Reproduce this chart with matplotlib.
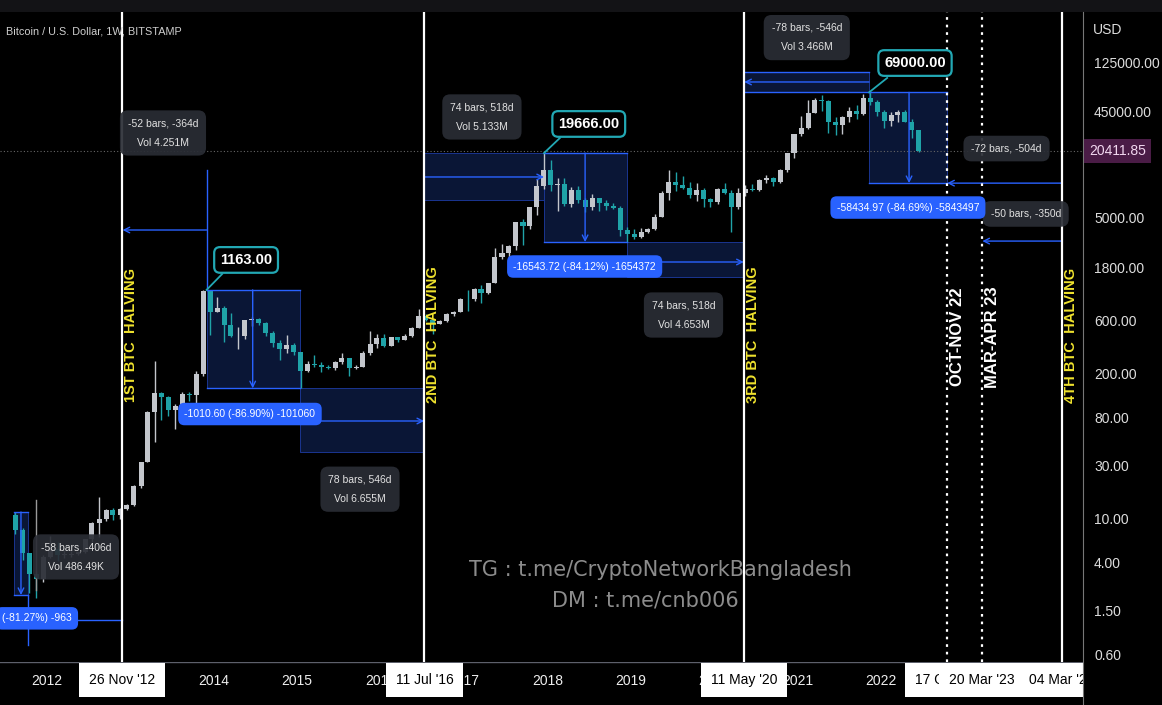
import matplotlib
matplotlib.use("Agg")
import matplotlib.pyplot as plt
import matplotlib.dates as mdates
from matplotlib.patches import Rectangle
import pandas as pd

BG = "#000000"
UP = "#c3c6cc"
DOWN = "#1fa3a8"
BLUE = "#2962ff"
NAVY = "#0a1636"
YELLOW = "#efe22e"
TEAL = "#22a8b4"
FONT = ["Liberation Sans", "DejaVu Sans"]

# monthly BTC/USD (Bitstamp), Aug 2011 .. Jun 2022
first_open = 11.0
closes = [8.2, 5.1, 3.25, 2.97, 4.7,
          5.5, 4.9, 4.9, 4.95, 5.15, 6.7, 9.4, 10.2, 12.4, 11.2, 12.6, 13.5,
          20.4, 33.4, 93, 139, 128, 97, 106, 135, 133, 203, 1128, 735,
          800, 560, 445, 445, 625, 640, 585, 480, 385, 340, 375, 320,
          218, 254, 245, 236, 230, 263, 283, 230, 236, 313, 378, 430,
          368, 437, 416, 448, 531, 673, 624, 573, 609, 700, 742, 966,
          963, 1190, 1080, 1350, 2300, 2480, 2870, 4735, 4335, 6450, 9950, 13850,
          10100, 10300, 6930, 9240, 7500, 6390, 7730, 7030, 6630, 6300, 4020, 3690,
          3440, 3820, 4100, 5300, 8570, 10800, 10100, 9600, 8300, 9150, 7540, 7190,
          9350, 8540, 6410, 8620, 9450, 9140, 11330, 11650, 10780, 13800, 19700, 28990,
          33100, 45200, 58800, 57700, 37300, 35000, 41500, 47100, 43800, 61300, 57000, 46200,
          38500, 43200, 45500, 37700, 31800, 20411.85]
highs = [11.8, 8.5, 5.1, 3.5, 4.9,
         7.2, 6.3, 5.4, 5.3, 5.2, 6.8, 9.6, 16.0, 12.6, 12.9, 12.9, 13.8,
         20.5, 33.4, 95, 266, 140, 130, 110, 140, 140, 216, 1163, 1150,
         1000, 830, 714, 540, 625, 670, 655, 600, 497, 415, 460, 390,
         320, 266, 300, 260, 247, 268, 315, 285, 245, 330, 500, 465,
         463, 440, 440, 467, 545, 780, 705, 630, 630, 720, 755, 975,
         1150, 1200, 1290, 1350, 2750, 2990, 2920, 4750, 5000, 6470, 11400, 19666,
         17200, 11800, 11700, 9750, 9990, 7770, 8500, 7770, 7400, 7000, 6600, 4240,
         4100, 4200, 4140, 5600, 9000, 13800, 13200, 12300, 10900, 10500, 9500, 7750,
         9570, 10500, 9190, 9460, 10080, 10380, 11440, 12470, 12060, 14100, 19800, 29300,
         41950, 58350, 61780, 64900, 59500, 41300, 42400, 50500, 52900, 67000, 69000, 59100,
         47900, 45800, 48200, 47500, 40000, 31900]
lows = [7.5, 4.4, 2.2, 2.0, 2.8,
        4.6, 4.3, 4.6, 4.7, 4.9, 5.1, 6.4, 7.1, 9.8, 9.9, 10.3, 12.4,
        13.3, 19.5, 33, 50, 79, 86, 65, 101, 118, 103, 197, 455,
        733, 400, 440, 340, 420, 550, 565, 445, 360, 275, 314, 300,
        152, 212, 237, 215, 228, 220, 250, 198, 225, 235, 300, 350,
        355, 365, 397, 413, 440, 530, 610, 470, 570, 605, 680, 740,
        750, 915, 890, 1060, 1350, 2200, 1830, 2670, 2970, 4110, 5500, 9400,
        9000, 6000, 6600, 6430, 7030, 5770, 6070, 5880, 6100, 6200, 3550, 3120,
        3350, 3370, 3770, 4050, 5280, 7500, 9060, 9350, 7700, 7300, 6500, 6430,
        6860, 8450, 3850, 6150, 8100, 8900, 8900, 10530, 9880, 10530, 13200, 17600,
        28100, 32300, 45000, 47000, 30000, 28800, 29300, 37300, 39600, 43300, 53300, 42000,
        32900, 34300, 37200, 37600, 26700, 20100]
months = pd.date_range("2011-08-01", periods=len(closes), freq="MS")
opens = [first_open] + closes[:-1]

price_ticks = [125000, 45000, 5000, 1800, 600, 200, 80, 30, 10, 4, 1.5, 0.6]
last_price = 20411.85
years = [2012, 2014, 2015, 2016, 2017, 2018, 2019, 2020, 2021, 2022]
halving_dates = ["2012-11-26", "2016-07-11", "2020-05-11", "2024-03-04"]
halving_labels = ["26 Nov '12", "11 Jul '16", "11 May '20", "04 Mar '24"]
halving_names = ["1ST BTC  HALVING", "2ND BTC  HALVING", "3RD BTC  HALVING", "4TH BTC  HALVING"]
cycle_dates = ["2022-10-17", "2023-03-20"]
cycle_labels = ["17 Oct '22", "20 Mar '23"]
cycle_names = ["OCT-NOV 22", "MAR-APR 23"]


def d(s):
    return mdates.date2num(pd.Timestamp(s))


W, H = 1162, 705
fig = plt.figure(figsize=(W / 100, H / 100), dpi=100, facecolor="#131316")
ax = fig.add_axes([0, 43 / H, 1083 / W, 650 / H], facecolor=BG)
ax.set_yscale("log")
px_day = 0.2283
x0 = d("2012-01-01")
ax.set_xlim(x0 - 47 / px_day, x0 + (1083 - 47) / px_day)
ax.set_ylim(10 ** (1 + (520 - 662) / 111.4), 10 ** (1 + (520 - 12) / 111.4))
ax.set_xticks([]); ax.set_yticks([])
ax.yaxis.set_minor_locator(matplotlib.ticker.NullLocator())
for s in ax.spines.values():
    s.set_visible(False)

# ---- range boxes (behind candles)
def box(a, b, lo, hi):
    ax.add_patch(Rectangle((d(a), lo), d(b) - d(a), hi - lo, fc=NAVY, ec="#1a3590", lw=0.7, zorder=1))

def hline(a, b, p):
    ax.plot([d(a), d(b)], [p, p], color=BLUE, lw=1, zorder=4)

def arrow(a, pa, b, pb):
    ax.annotate("", xy=(d(b), pb), xytext=(d(a), pa),
                arrowprops=dict(arrowstyle="->", color=BLUE, lw=1, shrinkA=0, shrinkB=0), zorder=4)

box("2011-08-09", "2011-10-10", 2.12, 11.8)
arrow("2011-09-09", 11.8, "2011-09-09", 2.12)
hline("2011-08-09", "2011-10-10", 11.8); hline("2011-08-09", "2011-10-10", 2.12)
ax.plot([d("2011-11-14")] * 2, [2.35, 15.1], color="#9a9a9a", lw=1, zorder=4)
ax.plot([d("2011-10-10")] * 2, [0.755, 2.12], color=BLUE, lw=1, zorder=4)
hline("2011-10-10", "2012-11-26", 1.265)

ax.plot([d("2013-11-30")] * 2, [1163, 13870], color=BLUE, lw=1, zorder=4)
arrow("2013-11-30", 4010, "2012-11-27", 4010)

box("2013-11-30", "2015-01-14", 152, 1163)
hline("2013-11-30", "2015-01-14", 1163); hline("2013-11-30", "2015-01-14", 152)
arrow("2014-06-20", 1163, "2014-06-20", 152)
box("2015-01-14", "2016-07-11", 40.7, 152)
arrow("2015-01-14", 77.4, "2016-07-10", 77.4)

box("2016-07-11", "2017-12-17", 7460, 19666)
arrow("2016-07-11", 12000, "2017-12-17", 12000)
box("2017-12-17", "2018-12-15", 3122, 19666)
hline("2017-12-17", "2018-12-15", 19666); hline("2017-12-17", "2018-12-15", 3122)
arrow("2018-06-15", 19666, "2018-06-15", 3122)
box("2018-12-15", "2020-05-11", 1517, 3122)
arrow("2018-12-15", 2070, "2020-05-10", 2070)

box("2020-05-11", "2021-11-10", 69000, 105100)
hline("2020-05-11", "2021-11-10", 105100); hline("2020-05-11", "2021-11-10", 69000)
arrow("2021-11-10", 85500, "2020-05-12", 85500)
box("2021-11-10", "2022-10-17", 10565, 69000)
hline("2021-11-10", "2022-10-17", 69000); hline("2021-11-10", "2022-10-17", 10565)
arrow("2022-05-04", 69000, "2022-05-04", 10565)
arrow("2024-03-04", 10565, "2022-10-18", 10565)
arrow("2024-03-04", 3190, "2023-03-21", 3190)

# ---- candles
xs = mdates.date2num(months) + 15
for x, o, h, l, c in zip(xs, opens, highs, lows, closes):
    col = UP if c >= o else DOWN
    ax.plot([x, x], [l, h], color=col, lw=1.0, zorder=2, solid_capstyle="butt")
    lo_b, hi_b = min(o, c), max(o, c)
    if hi_b / lo_b < 1.01:
        hi_b = lo_b * 1.01
    ax.bar(x, hi_b - lo_b, bottom=lo_b, width=22, color=col, lw=0, zorder=2)

ax.axhline(last_price, color="#666666", lw=0.8, ls=(0, (1, 2)), zorder=1.5)

# ---- halving / cycle lines
for dt, name in zip(halving_dates, halving_names):
    ax.axvline(d(dt), color="white", lw=1.6, zorder=5)
    ax.text(d(dt) + 38, 458, name, rotation=90, color=YELLOW, fontsize=10.5, fontweight="bold",
            ha="center", va="center", family=FONT, zorder=6)
for dt, name in zip(cycle_dates, cycle_names):
    ax.axvline(d(dt), color="white", lw=1.6, ls=(0, (1.2, 2.2)), zorder=5)
    ax.text(d(dt) + 45, 440, name, rotation=90, color="white", fontsize=12, fontweight="bold",
            ha="center", va="center", family=FONT, zorder=6)

# ---- labels
def grey_label(dt, p, s):
    ax.text(d(dt), p, s, ha="center", va="center", color="#e2e2e2", fontsize=7.5, family=FONT,
            linespacing=2.2, zorder=7,
            bbox=dict(boxstyle="round,pad=0.75", fc="#2a2d35", ec="none", alpha=0.92))

def blue_label(dt, p, s):
    ax.text(d(dt), p, s, ha="center", va="center", color="white", fontsize=7.5, family=FONT, zorder=7,
            bbox=dict(boxstyle="round,pad=0.6", fc=BLUE, ec="none"))

def price_label(pk_dt, pk, c_dt, cp, dt, p, s):
    ax.plot([d(pk_dt), d(c_dt)], [pk, cp], color=TEAL, lw=1.3, zorder=7.5)
    ax.text(d(dt), p, s, ha="center", va="center",
            color="white", fontsize=10.5, fontweight="bold", family=FONT, zorder=8,
            bbox=dict(boxstyle="round,pad=0.4", fc="black", ec=TEAL, lw=1.6))

grey_label("2012-05-07", 4.66, "-58 bars, -406d\nVol 486.49K")
grey_label("2013-05-23", 29800, "-52 bars, -364d\nVol 4.251M")
grey_label("2015-10-03", 18.9, "78 bars, 546d\nVol 6.655M")
grey_label("2017-03-20", 41500, "74 bars, 518d\nVol 5.133M")
grey_label("2019-08-20", 692, "74 bars, 518d\nVol 4.653M")
grey_label("2021-02-10", 214000, "-78 bars, -546d\nVol 3.466M")
grey_label("2023-07-05", 21600, "-72 bars, -504d")
grey_label("2023-09-27", 5590, "-50 bars, -350d")

blue_label("2011-11-18", 1.31, "(-81.27%) -963")
blue_label("2014-06-08", 89.4, "-1010.60 (-86.90%) -101060")
blue_label("2018-06-13", 1886, "-16543.72 (-84.12%) -1654372")
blue_label("2022-04-29", 6380, "-58434.97 (-84.69%) -5843497")

price_label("2013-11-30", 1163, "2014-02-06", 1614, "2014-05-22", 2160, "1163.00")
price_label("2017-12-17", 19666, "2018-02-24", 26800, "2018-07-01", 35900, "19666.00")
price_label("2021-11-10", 69000, "2022-01-28", 92900, "2022-05-30", 126500, "69000.00")

fig.text(6 / W, 1 - 31 / H, "Bitcoin / U.S. Dollar, 1W, BITSTAMP", color="#cfcfcf", fontsize=7.8,
         va="center", family=FONT)
fig.text(660 / W, 1 - 570 / H, "TG : t.me/CryptoNetworkBangladesh", color="#8c8c8c", fontsize=15,
         ha="center", va="center", family="DejaVu Sans")
fig.text(645 / W, 1 - 600 / H, "DM : t.me/cnb006", color="#8c8c8c", fontsize=15,
         ha="center", va="center", family="DejaVu Sans")

# ---- time axis
axb = fig.add_axes([0, 0, 1083 / W, 43 / H], facecolor=BG)
axb.set_xlim(ax.get_xlim()); axb.set_ylim(0, 1)
axb.axis("off")
axb.add_patch(Rectangle((0, 0), 1, 1, transform=axb.transAxes, fc=BG, zorder=0))
axb.axhline(1, color="#5d606b", lw=1)
for yr in years:
    axb.text(d(f"{yr}-01-01"), 0.55, str(yr), color="#eeeeee", fontsize=10, ha="center",
             va="center", family=FONT, zorder=1)
date_marks = list(zip(halving_dates[:3], halving_labels[:3])) + list(zip(cycle_dates, cycle_labels)) \
    + [(halving_dates[3], halving_labels[3])]
for dt, lab in date_marks:
    axb.text(d(dt), 0.58, lab, color="black", fontsize=10, ha="center", va="center", family=FONT,
             zorder=3, bbox=dict(boxstyle="square,pad=0.72", fc="white", ec="none"))

# ---- price axis
axr = fig.add_axes([1083 / W, 0, 79 / W, 693 / H], facecolor=BG)
axr.set_yscale("log")
axr.set_ylim(10 ** (1 + (520 - 705) / 111.4), 10 ** (1 + (520 - 12) / 111.4))
axr.set_xlim(0, 1)
axr.set_xticks([]); axr.set_yticks([])
axr.yaxis.set_minor_locator(matplotlib.ticker.NullLocator())
for k, s in axr.spines.items():
    s.set_visible(k == "left")
axr.spines["left"].set_color("#777777")
tr = axr.get_yaxis_transform()
for v in price_ticks:
    axr.text(0.14, v, f"{v:.2f}", transform=tr, color="#dddddd", fontsize=10, va="center",
             family=FONT)
axr.text(0.08, last_price, f"{last_price:.2f}", transform=tr, color="#f2d8f0", fontsize=10,
         va="center", family=FONT,
         bbox=dict(boxstyle="square,pad=0.35", fc="#4a1c46", ec="none"))
axr.text(0.12, 1 - 18 / 693, "USD", transform=axr.transAxes, color="#dddddd", fontsize=10,
         va="center", family=FONT)

fig.savefig("out.png", dpi=100, facecolor=fig.get_facecolor())
